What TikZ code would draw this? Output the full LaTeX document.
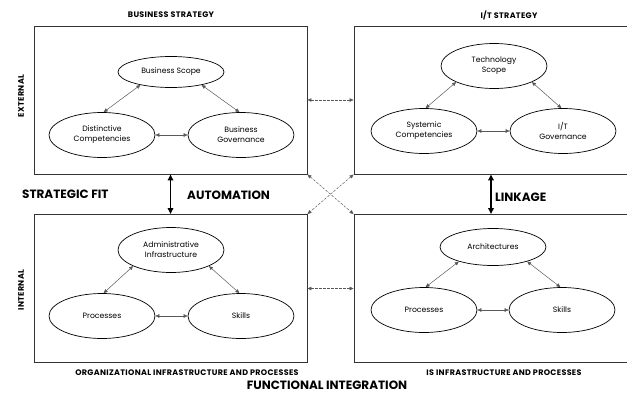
\documentclass[tikz,border=0pt]{standalone}
\usepackage{fontspec}
\setmainfont{Poppins}
\usetikzlibrary{arrows.meta,shapes.geometric}

\begin{document}
\begin{tikzpicture}[
	x=1pt, y=-1pt,
	panel/.style = {draw=black!80, line width=0.9pt, minimum width=273pt, minimum height=148pt, inner sep=0pt},
	oval/.style = {draw, ellipse, line width=0.7pt, minimum width=106pt, minimum height=45pt, inner sep=0pt, align=center, font=\fontsize{7.7}{10}\selectfont},
	tie/.style = {{Triangle[length=4pt,width=3.5pt]}-{Triangle[length=4pt,width=3.5pt]}, draw=black!65, line width=0.5pt},
	crosslink/.style = {{Triangle[length=4pt,width=3.5pt]}-{Triangle[length=4pt,width=3.5pt]}, draw=black!65, line width=0.5pt, dash pattern=on 2.5pt off 1.5pt},
	fitarrow/.style = {{Triangle[length=6pt,width=5.5pt]}-{Triangle[length=6pt,width=5.5pt]}, line width=1.5pt},
	title/.style = {font=\bfseries\fontsize{8}{9}\selectfont\addfontfeatures{LetterSpace=4}, inner sep=0pt},
	heading/.style = {font=\bfseries\fontsize{12}{14}\selectfont, inner sep=0pt}
	]
	
	\clip (0,0) rectangle (627,399);
	
	% Panels
	\node[panel] (bstrat) at (170.5,100) {};
	\node[panel, minimum width=274pt] (itstrat) at (491,100) {};
	\node[panel] (orginf) at (170.5,288.5) {};
	\node[panel, minimum width=274pt] (isinf) at (491,288.5) {};
	
	% Panel titles
	\node[title] (t-bs) at (171,15) {BUSINESS STRATEGY};
	\node[title] (t-it) at (509,15) {I/T STRATEGY};
	\node[title] (t-oi) at (187,373) {ORGANIZATIONAL INFRASTRUCTURE AND PROCESSES};
	\node[title] (t-is) at (504,373) {IS INFRASTRUCTURE AND PROCESSES};
	\node[title, rotate=90] (t-ext) at (21,96) {EXTERNAL};
	\node[title, rotate=90] (t-int) at (21,290) {INTERNAL};
	
	% Headings
	\node[heading, anchor=west] (h-fit) at (22,194) {STRATEGIC FIT};
	\node[heading, anchor=west] (h-auto) at (187,195) {AUTOMATION};
	\node[heading, anchor=west] (h-link) at (495,197) {LINKAGE};
	\node[heading] (h-func) at (327,385) {FUNCTIONAL INTEGRATION};
	
	% Business strategy
	\node[oval, minimum height=31pt] (bscope) at (171,72) {Business Scope};
	\node[oval] (dcomp) at (102,135) {Distinctive\\Competencies};
	\node[oval] (bgov) at (241,135) {Business\\Governance};
	
	% I/T strategy
	\node[oval] (tscope) at (494,66) {Technology\\Scope};
	\node[oval] (scomp) at (424,131) {Systemic\\Competencies};
	\node[oval] (itgov) at (563,131) {I/T\\Governance};
	
	% Organizational infrastructure
	\node[oval] (admin) at (171,250) {Administrative\\Infrastructure};
	\node[oval] (oproc) at (102,316) {Processes};
	\node[oval] (oskill) at (241,316) {Skills};
	
	% IS infrastructure
	\node[oval, minimum height=37pt] (arch) at (493,247) {Architectures};
	\node[oval] (iproc) at (424,310) {Processes};
	\node[oval] (iskill) at (562,310) {Skills};
	
	% Links inside the panels
	\foreach \t/\l/\r in {bscope/dcomp/bgov, tscope/scomp/itgov, admin/oproc/oskill, arch/iproc/iskill} {
		\draw[tie] (\t.203) -- (\l.86);
		\draw[tie] (\t.337) -- (\r.94);
		\draw[tie] (\l.east) -- (\r.west);
	}
	
	% Links between the panels
	\draw[fitarrow] (bstrat) -- (orginf);
	\draw[fitarrow] (itstrat) -- (isinf);
	\draw[crosslink] (bstrat) -- (itstrat);
	\draw[crosslink] (orginf) -- (isinf);
	\draw[crosslink] (bstrat.south east) -- (isinf.north west);
	\draw[crosslink] (itstrat.south west) -- (orginf.north east);
	
\end{tikzpicture}
\end{document}
